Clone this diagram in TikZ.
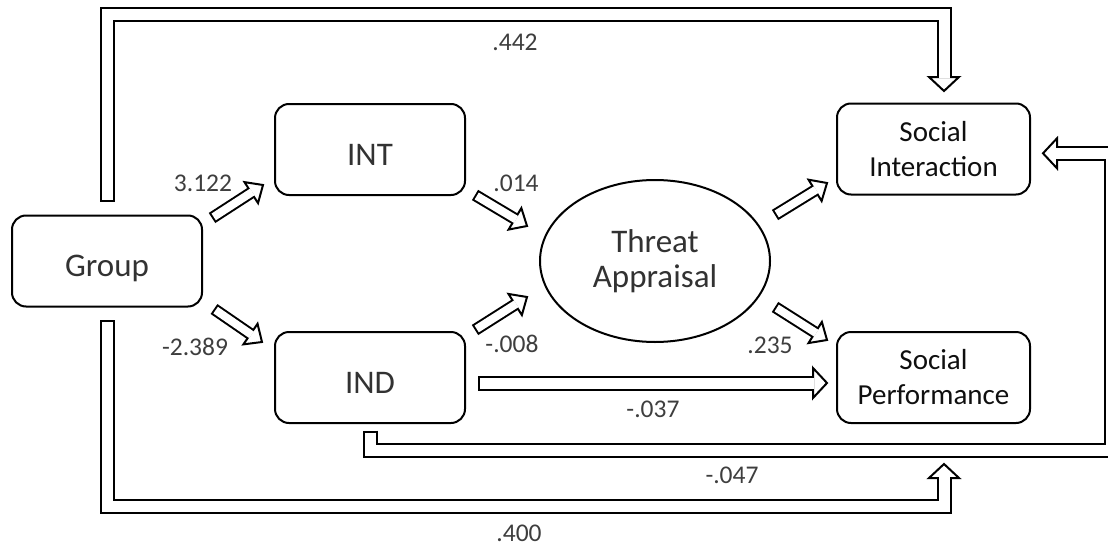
\documentclass[tikz,border=0pt]{standalone}
\usepackage{fontspec}
\setmainfont{Carlito}
\usetikzlibrary{calc,shapes.geometric}

\definecolor{numgray}{RGB}{62,62,62}
\definecolor{labgray}{RGB}{50,50,50}
\definecolor{boxtext}{RGB}{15,15,15}

\tikzset{
  % dimensions of the hollow block arrows: outer shaft, inner shaft, head half width, head length
  bigarrow/.code={\def\Wo{15pt}\def\Wi{11pt}\def\Hw{15pt}\def\Hl{14pt}\def\Hx{12.7pt}},
  smallarrow/.code={\def\Wo{12pt}\def\Wi{8pt}\def\Hw{12.5pt}\def\Hl{14pt}\def\Hx{12.7pt}},
  box/.style={draw, line width=2pt, rounded corners=14pt, minimum width=190pt,
    minimum height=91pt, inner sep=0pt, align=center},
  varbox/.style={box, text=labgray, font=\fontsize{33}{38}\selectfont,
    text height=31pt, text depth=0pt},
  outbox/.style={box, minimum width=193pt, text=boxtext, font=\fontsize{29}{35}\selectfont},
  latent/.style={ellipse, draw, line width=2pt, minimum width=230pt, minimum height=162pt,
    inner sep=0pt, align=center, text=labgray, font=\fontsize{33}{35}\selectfont},
  num/.style={text=numgray, font=\fontsize{25.5}{30}\selectfont, inner sep=0pt},
}

% hollow block arrow along a polyline:
% #1 size style, #2 path up to the last corner, #3 last corner, #4 tip
\newcommand\hollowarrow[4]{%
  \begin{scope}[#1]
    \coordinate (hb) at ($(#4)!\Hl!(#3)$);
    \coordinate (hw) at ($(#4)!\Hx!(#3)$);
    \draw[line width=\Wo, line join=miter] #2 -- (hb);
    \filldraw[fill=white, line width=2pt, line join=miter]
      ($(hb)!\Hw!90:(#4)$) -- (#4) -- ($(hb)!\Hw!-90:(#4)$) -- cycle;
    \draw[white, line width=\Wi, line join=miter, shorten <=2pt] #2 -- (hw);
  \end{scope}}

\begin{document}
\begin{tikzpicture}[x=1pt, y=-1pt]
\useasboundingbox (0,0) rectangle (1108,546);
\clip (0,0) rectangle (1108,546);

% variables
\node[varbox] (group) at (107,261) {Group};
\node[varbox] (int) at (370,149.5) {INT};
\node[varbox] (ind) at (370,377.5) {IND};
\node[latent] (ta) at (655,261) {Threat\\Appraisal};
\node[outbox] (si) at (933.5,149) {Social\\Interaction};
\node[outbox] (sp) at (933.5,377.5) {Social\\Performance};

% route of the direct effect Group -> Social Interaction
\coordinate (a1s) at (107.5,201.5);
\coordinate (a1c) at (107.5,14.5);
\coordinate (a1d) at (944,14.5);
\coordinate (a1t) at (944,91);
% route of the direct effect Group -> Social Performance
\coordinate (a2s) at (107.5,320);
\coordinate (a2c) at (107.5,506.5);
\coordinate (a2d) at (944,506.5);
\coordinate (a2t) at (944,464);
% route of the direct effect IND -> Social Interaction
\coordinate (a3s) at (370,430.5);
\coordinate (a3c) at (370,450);
\coordinate (a3d) at (1111,450);
\coordinate (a3e) at (1111,153.3);
\coordinate (a3t) at (1043,153.3);
% IND -> Social Performance
\coordinate (a4s) at (478,383);
\coordinate (a4t) at (827,383);
% short paths
\coordinate (g1s) at (212,218);  \coordinate (g1t) at (263,185);
\coordinate (g2s) at (214,309);  \coordinate (g2t) at (262,342);
\coordinate (m1s) at (475,195);  \coordinate (m1t) at (527,226);
\coordinate (m2s) at (475,330);  \coordinate (m2t) at (527,297);
\coordinate (o1s) at (775,215);  \coordinate (o1t) at (827,183);
\coordinate (o2s) at (775,307);  \coordinate (o2t) at (827,340);

\hollowarrow{bigarrow}{(a1s) -- (a1c) -- (a1d)}{a1d}{a1t}
\hollowarrow{bigarrow}{(a2s) -- (a2c) -- (a2d)}{a2d}{a2t}
\hollowarrow{bigarrow}{(a3s) -- (a3c) -- (a3d) -- (a3e)}{a3e}{a3t}
\hollowarrow{bigarrow}{(a4s)}{a4s}{a4t}

\hollowarrow{smallarrow}{(g1s)}{g1s}{g1t}
\hollowarrow{smallarrow}{(g2s)}{g2s}{g2t}
\hollowarrow{smallarrow}{(m1s)}{m1s}{m1t}
\hollowarrow{smallarrow}{(m2s)}{m2s}{m2t}
\hollowarrow{smallarrow}{(o1s)}{o1s}{o1t}
\hollowarrow{smallarrow}{(o2s)}{o2s}{o2t}

% path coefficients
\node[num] (n442) at (515,42) {.442};
\node[num] (n3122) at (203,183) {3.122};
\node[num] (n014) at (516,183) {.014};
\node[num] (n2389) at (195,347) {-2.389};
\node[num] (n008) at (512,344) {-.008};
\node[num] (n235) at (770,345) {.235};
\node[num] (n037) at (653,409) {-.037};
\node[num] (n047) at (732,475) {-.047};
\node[num] (n400) at (519,533) {.400};
\end{tikzpicture}
\end{document}
